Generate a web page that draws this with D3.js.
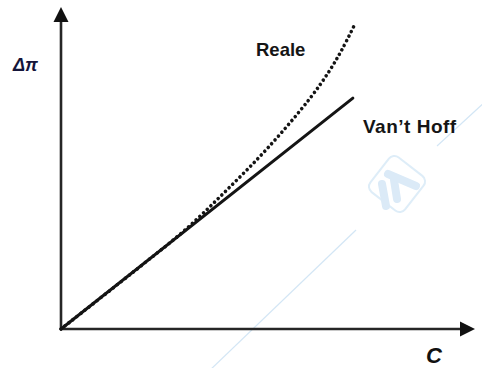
<!DOCTYPE html>
<html>
<head>
<meta charset="utf-8">
<script src="https://cdn.jsdelivr.net/npm/d3@7"></script>
<style>
  html, body { margin: 0; padding: 0; background: #fff; }
  svg { display: block; }
</style>
</head>
<body>
<svg id="chart" width="482" height="368"></svg>
<script>
// Concentration C and osmotic pressure Δπ, both in arbitrary units (0–100)
const vantHoffC  = [0, 70.5];
const vantHoffPi = [0, 71.7];

const realeC  = [0, 20, 30, 40, 50, 60, 65, 68, 71];
const realePi = [0, 20.3, 30.8, 43.1, 56.3, 71.4, 80.5, 87.1, 94.7];

const axisLabels = { x: "C", y: "Δπ" };
const seriesLabels = ["Reale", "Van’t Hoff"];

const svg = d3.select("#chart");

const x = d3.scaleLinear().domain([0, 100]).range([61, 475]);
const y = d3.scaleLinear().domain([0, 100]).range([329, 7]);

// faint diagonal watermark behind the chart
const wm = svg.append("g").attr("fill", "none").attr("stroke", "#d3e6f5");
wm.append("line").attr("x1", 208).attr("y1", 372).attr("x2", 356).attr("y2", 230).attr("stroke-width", 1.2);
wm.append("line").attr("x1", 437).attr("y1", 146).attr("x2", 486).attr("y2", 101).attr("stroke-width", 1.2);
const logo = wm.append("g").attr("transform", "translate(397,184) rotate(38)");
logo.append("rect").attr("x", -22).attr("y", -22).attr("width", 44).attr("height", 44)
  .attr("rx", 7).attr("stroke-width", 2).attr("stroke", "#deedf8");
const caps = svg.append("g").attr("stroke", "#dbeaf7").attr("stroke-width", 8).attr("stroke-linecap", "round");
caps.append("line").attr("x1", 382).attr("y1", 184).attr("x2", 386).attr("y2", 206);
caps.append("line").attr("x1", 394).attr("y1", 180).attr("x2", 397).attr("y2", 199);
caps.append("line").attr("x1", 388).attr("y1", 174).attr("x2", 416).attr("y2", 186);

// axes: plain domain lines with arrowheads, no ticks
const axisColor = "#262626";
const xAxis = svg.append("g").attr("transform", `translate(0,${y(0)})`)
  .call(d3.axisBottom(x).tickValues([]).tickSizeOuter(0));
const yAxis = svg.append("g").attr("transform", `translate(${x(0)},0)`)
  .call(d3.axisLeft(y).tickValues([]).tickSizeOuter(0));
[xAxis, yAxis].forEach(g => g.select(".domain")
  .attr("stroke", axisColor).attr("stroke-width", 2.6));

// arrowheads at the far end of each axis
xAxis.select(".domain").attr("d", `M${x(0)},0H${x(100) - 10}`);
yAxis.select(".domain").attr("d", `M0,${y(0) + 1}V${y(100) + 10}`);
svg.append("path")
  .attr("d", `M${x(100)},${y(0)} L${x(100) - 15},${y(0) - 7.5} L${x(100) - 15},${y(0) + 7.5} Z`)
  .attr("fill", "#111");
svg.append("path")
  .attr("d", `M${x(0)},${y(100)} L${x(0) - 7.5},${y(100) + 15} L${x(0) + 7.5},${y(100) + 15} Z`)
  .attr("fill", "#111");

// Van't Hoff: ideal, linear law
const vantHoff = vantHoffC.map((c, i) => [c, vantHoffPi[i]]);
svg.append("path")
  .datum(vantHoff)
  .attr("fill", "none")
  .attr("stroke", "#141414")
  .attr("stroke-width", 3)
  .attr("stroke-linecap", "round")
  .attr("d", d3.line().x(d => x(d[0])).y(d => y(d[1])));

// Real solution: dotted curve bending upward
const reale = realeC.map((c, i) => [c, realePi[i]]);
svg.append("path")
  .datum(reale)
  .attr("fill", "none")
  .attr("stroke", "#141414")
  .attr("stroke-width", 3.6)
  .attr("stroke-linecap", "round")
  .attr("stroke-dasharray", "0.01 5.1")
  .attr("d", d3.line().curve(d3.curveCatmullRom.alpha(0.5)).x(d => x(d[0])).y(d => y(d[1])));

// labels
const font = "'Liberation Sans', Arial, Helvetica, sans-serif";
svg.append("text").attr("x", 256).attr("y", 56)
  .attr("font-family", font).attr("font-weight", "bold").attr("font-size", 18.5)
  .attr("fill", "#151515").text(seriesLabels[0]);
svg.append("text").attr("x", 363).attr("y", 133)
  .attr("font-family", font).attr("font-weight", "bold").attr("font-size", 19)
  .attr("letter-spacing", 0.5)
  .attr("fill", "#151515").text(seriesLabels[1]);
svg.append("text").attr("x", 13).attr("y", 71)
  .attr("font-family", font).attr("font-weight", "bold").attr("font-style", "italic")
  .attr("font-size", 18).attr("fill", "#15153a").text(axisLabels.y);
svg.append("text").attr("x", 426).attr("y", 363)
  .attr("font-family", font).attr("font-weight", "bold").attr("font-style", "italic")
  .attr("font-size", 22).attr("fill", "#111").text(axisLabels.x);
</script>
</body>
</html>
